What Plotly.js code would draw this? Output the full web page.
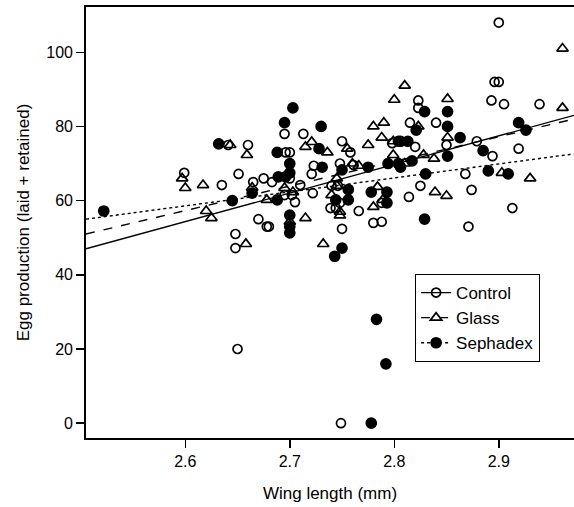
<!DOCTYPE html>
<html>
<head>
<meta charset="utf-8">
<script src="https://cdn.plot.ly/plotly-3.0.1.min.js"></script>
<style>html,body{margin:0;padding:0;background:#fff;}#chart{width:574px;height:507px;}</style>
</head>
<body>
<div id="chart"></div>
<script>
// ---- Data ----
const seriesNames = ["Control", "Glass", "Sephadex"];

const controlX = [2.900,2.896,2.900,2.823,2.893,2.905,2.939,2.823,2.815,2.840,2.879,2.850,2.919,2.820,2.695,2.713,2.750,2.660,2.641,2.599,2.635,2.648,2.648,2.696,2.700,2.758,2.723,2.748,2.761,2.651,2.675,2.700,2.721,2.665,2.683,2.710,2.695,2.702,2.705,2.722,2.740,2.746,2.748,2.739,2.744,2.766,2.788,2.780,2.788,2.750,2.670,2.678,2.680,2.894,2.868,2.825,2.814,2.874,2.913,2.871,2.650,2.749,2.798];
const controlY = [108,92,92,87,87,86,86,85,81,81,76,75,74,74.5,78,78,76,75,75,67.5,64.2,51,47.2,73,73,73,69.4,70,69.6,67.2,66,66,67.2,65,65,64.2,61.5,61.5,59.6,62,64,64,59.4,58,58,57.2,59.4,54,54.3,52.4,55,53,53,72,67.2,64,61,62.9,58,53,20,0,75.5];

const glassX = [2.810,2.800,2.851,2.961,2.961,2.721,2.780,2.790,2.788,2.799,2.775,2.643,2.715,2.755,2.823,2.851,2.597,2.600,2.617,2.620,2.625,2.659,2.736,2.799,2.760,2.766,2.664,2.695,2.703,2.678,2.745,2.745,2.740,2.748,2.748,2.784,2.789,2.780,2.700,2.715,2.658,2.732,2.828,2.838,2.810,2.903,2.930,2.839,2.850];
const glassY = [91,87.2,87.4,101,85,75.8,80,81,77,76,75,75,74.5,74,80,77,66,63.4,64.2,57.2,55.3,72.3,73,72.3,70,69.4,63.5,63.4,62.3,60.2,66,64,61.5,57,56,63.7,60.2,58.3,54.3,55.3,48.3,48.3,72.3,71.3,70,67.5,66,62.3,61.3];

const sephadexX = [2.703,2.695,2.730,2.804,2.728,2.829,2.851,2.851,2.821,2.919,2.926,2.863,2.806,2.813,2.885,2.632,2.645,2.522,2.688,2.794,2.804,2.700,2.700,2.731,2.750,2.775,2.689,2.696,2.664,2.688,2.756,2.744,2.756,2.778,2.793,2.793,2.700,2.700,2.700,2.750,2.743,2.851,2.806,2.817,2.830,2.890,2.909,2.829,2.783,2.792,2.778];
const sephadexY = [85,81,80,76,74,84,84,80,79,81,79,77,76,76,73.5,75.3,60,57.2,73,70,70,70,67.5,69,68.3,69,66.4,66.4,62,60.2,63,60.2,60.2,62.3,62.3,59.4,56.1,53,51.3,47.2,45,72,69,70.7,67.2,68,67.2,55,28,16,0];

// fitted regression lines (end values read at the plot edges)
const fitX = [2.505, 2.972];
const controlFit = [47, 83];
const glassFit = [51, 82];
const sephadexFit = [55, 72.6];

const xTicks = [2.6, 2.7, 2.8, 2.9];
const yTicks = [0, 20, 40, 60, 80, 100];

// ---- Styles ----
const FONT = "Liberation Sans, Arial, Helvetica, sans-serif";
const styles = {
  Control:  {symbol: "circle-open", size: 9, dash: "solid"},
  Glass:    {symbol: "triangle-up-open", size: 10, dash: "dash"},
  Sephadex: {symbol: "circle", size: 10, dash: "dot"}
};
function marker(name) {
  const s = styles[name];
  return {symbol: s.symbol, size: s.size, color: "#000", line: {color: "#000", width: 1.7}};
}

const data = [];
const xs = [controlX, glassX, sephadexX];
const ys = [controlY, glassY, sephadexY];
const fits = [controlFit, glassFit, sephadexFit];

seriesNames.forEach((n, i) => {
  data.push({type: "scatter", mode: "lines", x: fitX, y: fits[i], showlegend: false,
             line: {color: "#000", width: 1.4, dash: styles[n].dash}, hoverinfo: "skip"});
});
seriesNames.forEach((n, i) => {
  data.push({type: "scatter", mode: "markers", x: xs[i], y: ys[i], name: n,
             showlegend: false, marker: marker(n)});
});
// legend entries (line + marker)
seriesNames.forEach((n) => {
  data.push({type: "scatter", mode: "lines+markers", x: [null], y: [null], name: n,
             showlegend: true, marker: marker(n),
             line: {color: "#000", width: 1.3, dash: styles[n].dash}});
});

const layout = {
  width: 574, height: 507,
  margin: {l: 86, r: 0, t: 7, b: 69},
  paper_bgcolor: "#fff", plot_bgcolor: "#fff",
  font: {family: FONT, size: 16, color: "#000"},
  showlegend: true,
  legend: {
    x: 0.674, y: 0.381, xanchor: "left", yanchor: "top",
    bgcolor: "#fff", bordercolor: "#000", borderwidth: 1.2,
    font: {family: FONT, size: 17, color: "#000"},
    tracegroupgap: 0, itemwidth: 30
  },
  xaxis: {
    range: [2.505, 2.972], tickvals: xTicks, ticktext: xTicks.map(v => v.toFixed(1)),
    ticks: "outside", ticklen: 8, tickwidth: 1.5, tickcolor: "#000",
    showline: true, linewidth: 1.8, linecolor: "#000", mirror: true,
    showgrid: false, zeroline: false,
    tickfont: {family: FONT, size: 16, color: "#000"},
    title: {text: "Wing length (mm)", font: {family: FONT, size: 17, color: "#000"}, standoff: 18}
  },
  yaxis: {
    range: [-4, 112.2], tickvals: yTicks,
    ticks: "outside", ticklen: 8, tickwidth: 1.5, tickcolor: "#000",
    showline: true, linewidth: 1.8, linecolor: "#000", mirror: false,
    showgrid: false, zeroline: false,
    tickfont: {family: FONT, size: 16, color: "#000"},
    title: {text: "Egg production (laid + retained)", font: {family: FONT, size: 17, color: "#000"}, standoff: 12}
  }
};

Plotly.newPlot("chart", data, layout, {staticPlot: true, displayModeBar: false});
</script>
</body>
</html>
